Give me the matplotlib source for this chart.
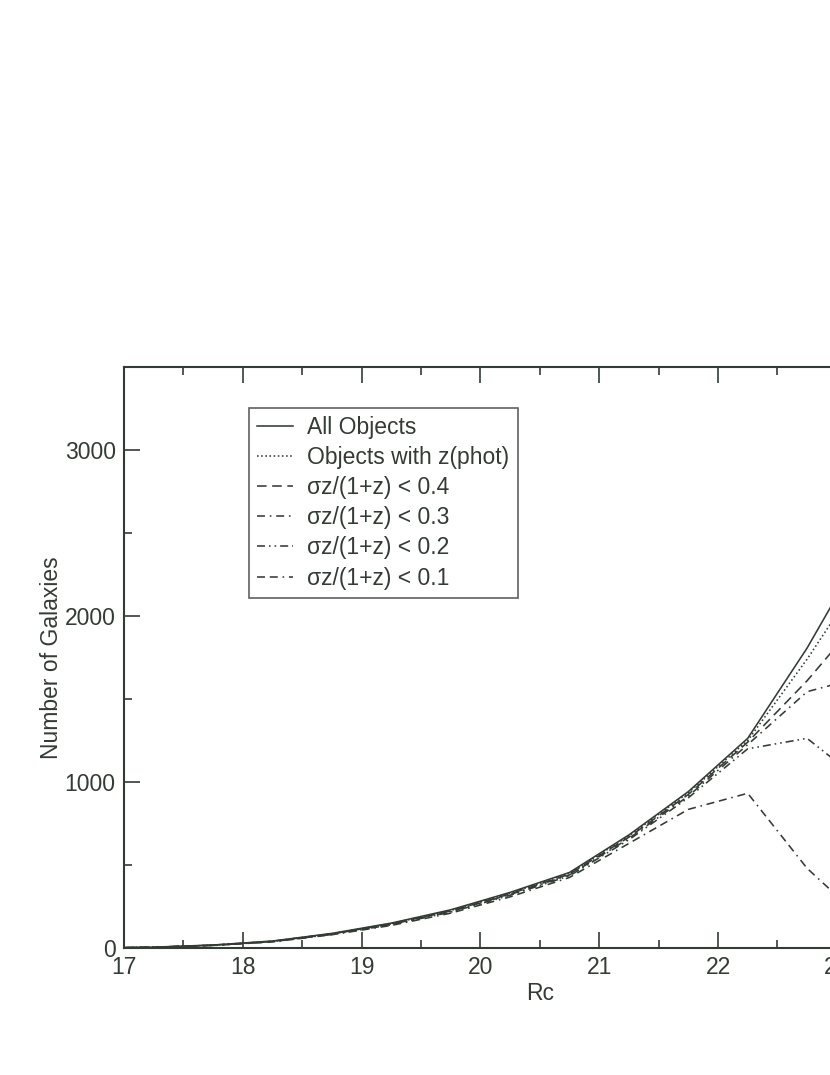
import matplotlib
matplotlib.use("Agg")
import matplotlib.pyplot as plt
from matplotlib.ticker import MultipleLocator

# magnitude bins (Rc) and galaxy counts per curve
rc = [16.75, 17.25, 17.75, 18.25, 18.75, 19.25, 19.75, 20.25,
      20.75, 21.25, 21.75, 22.25, 22.75, 23.25]
all_objects = [0, 5, 18, 42, 88, 150, 230, 335, 455, 681, 942, 1263, 1807, 2430]
with_zphot = [0, 5, 17, 41, 86, 147, 226, 330, 450, 675, 935, 1250, 1740, 2280]
sig_04 = [0, 5, 17, 40, 85, 145, 223, 326, 445, 668, 925, 1240, 1610, 2030]
sig_03 = [0, 4, 16, 39, 84, 143, 220, 322, 440, 660, 915, 1225, 1544, 1640]
sig_02 = [0, 4, 16, 38, 82, 140, 216, 318, 435, 652, 905, 1200, 1263, 980]
sig_01 = [0, 4, 15, 37, 80, 136, 210, 308, 425, 630, 835, 932, 480, 150]

labels = ["All Objects", "Objects with z(phot)",
          "\u03c3z/(1+z) < 0.4", "\u03c3z/(1+z) < 0.3",
          "\u03c3z/(1+z) < 0.2", "\u03c3z/(1+z) < 0.1"]

ink = "#333b35"
plt.rcParams["font.family"] = ["Liberation Sans", "DejaVu Sans"]
plt.rcParams["font.size"] = 16.5
plt.rcParams["text.color"] = ink
plt.rcParams["axes.labelcolor"] = ink
plt.rcParams["xtick.color"] = ink
plt.rcParams["ytick.color"] = ink

fig = plt.figure(figsize=(8.3, 10.75), dpi=100)
# axes runs past the right edge of the page, as in the original
ax = fig.add_axes([124 / 830, 127 / 1075, 831.6 / 830, 581 / 1075])

styles = [
    "-",
    (0, (1, 1.6)),
    (0, (6, 3.5)),
    (0, (5, 3, 1, 3)),
    (0, (5, 2.5, 1, 2.5, 1, 2.5)),
    (0, (5, 3, 5, 3, 1, 3)),
]
series = [all_objects, with_zphot, sig_04, sig_03, sig_02, sig_01]
for ys, ls, lab in zip(series, styles, labels):
    ax.plot(rc, ys, color=ink, linewidth=1.15, linestyle=ls, label=lab)

ax.set_xlim(17, 24)
ax.set_ylim(0, 3500)
ax.xaxis.set_major_locator(MultipleLocator(1))
ax.xaxis.set_minor_locator(MultipleLocator(0.5))
ax.yaxis.set_major_locator(MultipleLocator(1000))
ax.yaxis.set_minor_locator(MultipleLocator(500))
ax.tick_params(which="both", direction="in", top=True, right=True, width=1.2)
ax.tick_params(which="major", length=11.5, pad=6)
ax.tick_params(which="minor", length=5.8)
for s in ax.spines.values():
    s.set_linewidth(1.5)
    s.set_color(ink)

ax.set_xlabel("Rc", labelpad=2)
ax.set_ylabel("Number of Galaxies", labelpad=1)

leg = ax.legend(loc="upper left", bbox_to_anchor=(0.1503, 0.9294),
                borderaxespad=0, fancybox=False, handlelength=1.55,
                handletextpad=0.65, labelspacing=0.31, borderpad=0.35,
                fontsize=16.5)
leg.get_frame().set_edgecolor(ink)
leg.get_frame().set_linewidth(1.2)

fig.savefig("out.png", dpi=100)
